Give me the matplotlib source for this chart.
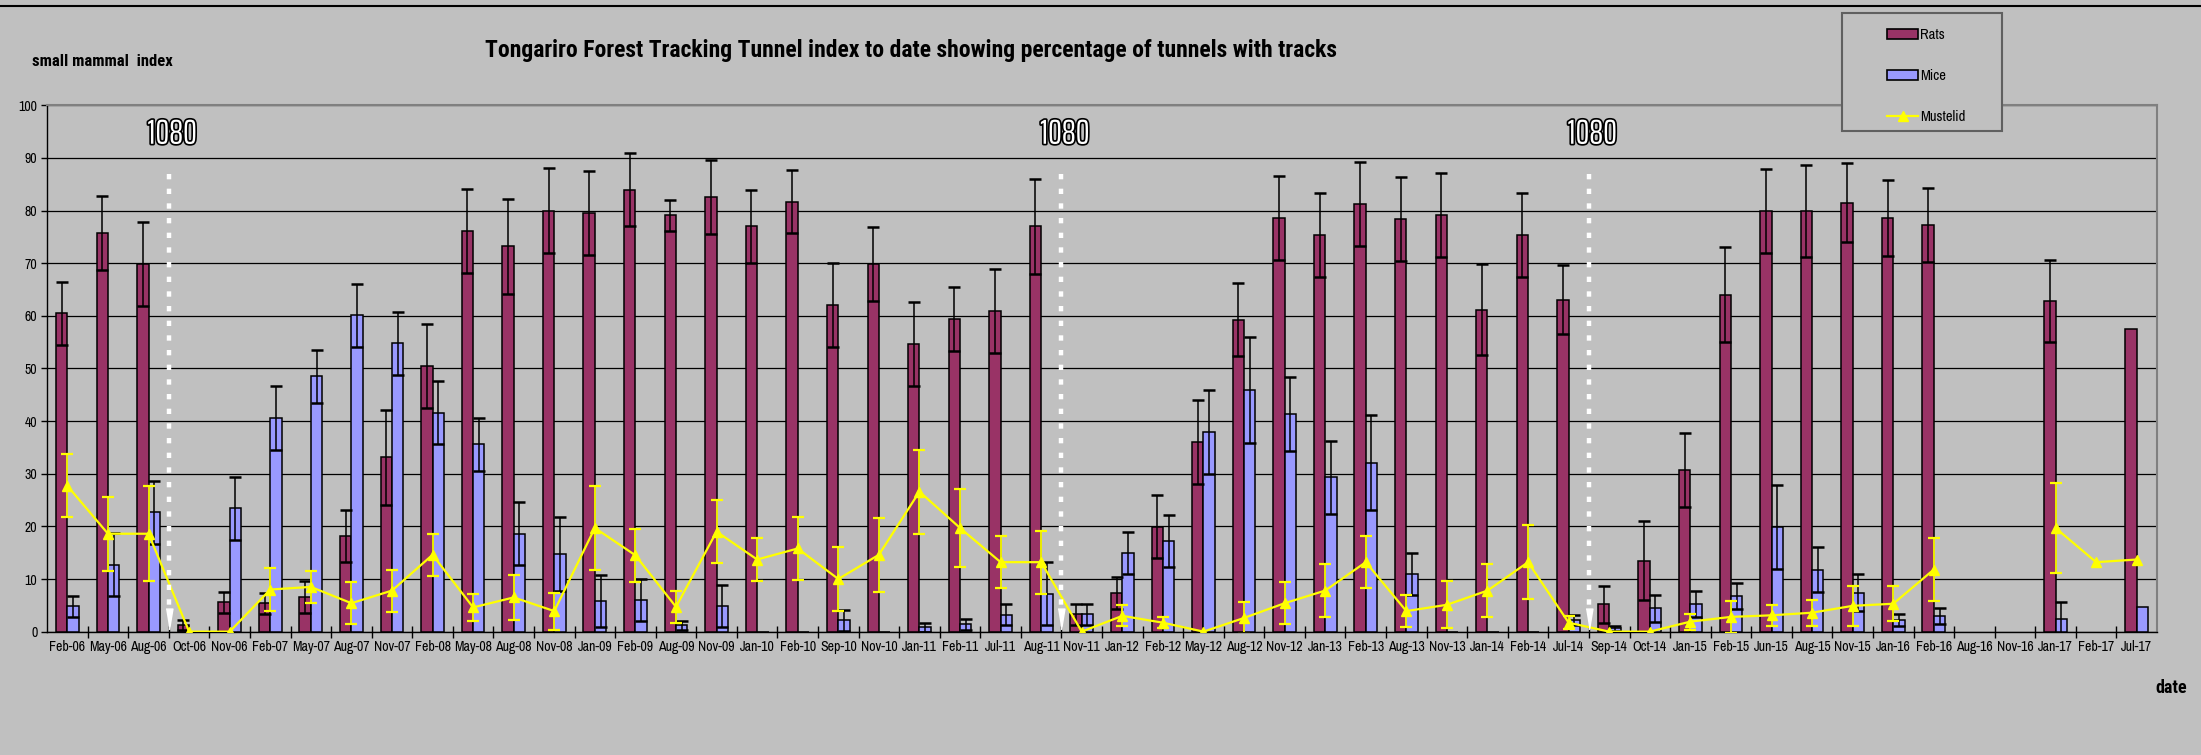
import numpy as np
import matplotlib.pyplot as plt
from matplotlib.patches import Rectangle, Patch
from matplotlib.lines import Line2D
import matplotlib.patheffects as pe

plt.rcParams['font.family'] = ['Archivo Narrow', 'Liberation Sans', 'DejaVu Sans']
bold_font = ['Roboto Condensed', 'Liberation Sans', 'DejaVu Sans']

nan = np.nan

dates = ['Feb-06', 'May-06', 'Aug-06', 'Oct-06', 'Nov-06', 'Feb-07', 'May-07', 'Aug-07', 'Nov-07',
         'Feb-08', 'May-08', 'Aug-08', 'Nov-08', 'Jan-09', 'Feb-09', 'Aug-09', 'Nov-09', 'Jan-10',
         'Feb-10', 'Sep-10', 'Nov-10', 'Jan-11', 'Feb-11', 'Jul-11', 'Aug-11', 'Nov-11', 'Jan-12',
         'Feb-12', 'May-12', 'Aug-12', 'Nov-12', 'Jan-13', 'Feb-13', 'Aug-13', 'Nov-13', 'Jan-14',
         'Feb-14', 'Jul-14', 'Sep-14', 'Oct-14', 'Jan-15', 'Feb-15', 'Jun-15', 'Aug-15', 'Nov-15',
         'Jan-16', 'Feb-16', 'Aug-16', 'Nov-16', 'Jan-17', 'Feb-17', 'Jul-17']

rats = [60.5, 75.8, 69.9, 1.3, 5.6, 5.4, 6.6, 18.2, 33.1, 50.4, 76.1, 73.2, 80.0, 79.6, 84.0, 79.1,
        82.6, 77.0, 81.7, 62.1, 69.9, 54.6, 59.4, 60.9, 77.0, 3.3, 7.3, 19.9, 36.0, 59.3, 78.6, 75.3,
        81.3, 78.4, 79.1, 61.2, 75.3, 63.1, 5.2, 13.5, 30.7, 64.0, 79.9, 79.9, 81.5, 78.6, 77.2,
        nan, nan, 62.8, nan, 57.5]
rats_err = [6, 7, 8, 1, 2, 2, 3, 5, 9, 8, 8, 9, 8, 8, 7, 3, 7, 7, 6, 8, 7, 8, 6, 8, 9, 2, 3, 6, 8, 7,
            8, 8, 8, 8, 8, 8.6, 8, 6.5, 3.5, 7.5, 7, 9, 8, 8.7, 7.5, 7.3, 7, nan, nan, 7.8, nan, nan]

mice = [4.8, 12.7, 22.7, 0, 23.4, 40.6, 48.5, 60.1, 54.8, 41.6, 35.6, 18.6, 14.8, 5.8, 6.0, 1.2,
        4.8, 0, 0, 2.2, 0, 0.8, 1.4, 3.2, 7.2, 3.3, 15.0, 17.2, 37.9, 45.9, 41.3, 29.3, 32.1, 10.9,
        0, 0, 0, 2.2, 0.6, 4.4, 5.2, 6.8, 19.9, 11.8, 7.4, 2.2, 3.0, nan, nan, 2.4, nan, 4.6]
mice_err = [2, 6, 6, nan, 6, 6, 5, 6, 6, 6, 5, 6, 7, 5, 4, 0.8, 4, nan, nan, 2, nan, 0.8, 1, 2, 6,
            2, 4, 5, 8, 10, 7, 7, 9, 4, nan, nan, nan, 1, 0.5, 2.5, 2.5, 2.5, 8, 4.3, 3.5, 1.2, 1.5,
            nan, nan, 3.3, nan, nan]

mustelid = [27.7, 18.6, 18.6, 0, 0, 8.0, 8.5, 5.4, 7.8, 14.6, 4.6, 6.5, 3.9, 19.7, 14.5, 4.7, 19.0,
            13.7, 15.8, 10.0, 14.6, 26.6, 19.7, 13.2, 13.2, 0, 3.0, 1.7, 0, 2.6, 5.4, 7.8, 13.2, 3.9,
            5.1, 7.8, 13.2, 1.7, 0, 0, 1.9, 2.8, 3.1, 3.6, 4.9, 5.3, 11.8, nan, nan, 19.7, 13.2, 13.7]
mustelid_err = [6, 7, 9, nan, nan, 4, 3, 4, 4, 4, 2.5, 4.3, 3.5, 8, 5, 3, 6, 4, 6, 6, 7, 8, 7.4, 5,
                6, nan, 2, 1, nan, 3, 4, 5, 5, 3, 4.5, 5, 7, 1.2, nan, nan, 1.5, 3, 2, 2.5, 3.8, 3.3,
                6, nan, nan, 8.6, nan, nan]

# 1080 drops came after these surveys
drops = ['Aug-06', 'Aug-11', 'Jul-14']

bg = '#C0C0C0'
fig = plt.figure(figsize=(22.01, 7.55), dpi=100, facecolor=bg)
ax = fig.add_axes([0.0214, 0.1634, 0.9586, 0.6971])
ax.set_facecolor(bg)

x = np.arange(len(dates))
w = 0.28
ax.bar(x - w / 2, rats, w, color='#993366', edgecolor='black', linewidth=1.1, zorder=3)
ax.bar(x + w / 2, mice, w, color='#9999FF', edgecolor='black', linewidth=1.1, zorder=3)
ax.errorbar(x - w / 2, rats, yerr=rats_err, fmt='none', ecolor='black', elinewidth=1.1,
            capsize=4.5, capthick=1.8, zorder=4)
ax.errorbar(x + w / 2, mice, yerr=mice_err, fmt='none', ecolor='black', elinewidth=1.1,
            capsize=4.5, capthick=1.8, zorder=4)
ax.errorbar(x, mustelid, yerr=mustelid_err, color='#FFFF00', marker='^', markersize=7,
            lw=1.6, elinewidth=1.3, capsize=4, capthick=1.6, zorder=5)

tri = [(-0.33, 1), (0.33, 1), (0, -1)]
for d in drops:
    xd = dates.index(d) + 0.5
    ax.plot([xd, xd], [87, 5], color='white', lw=3.2, ls=(0, (1.2, 2.1)),
            dash_capstyle='butt', zorder=6)
    ax.plot([xd], [2.4], marker=tri, ms=15, color='white', zorder=6)
    ax.text(xd + 0.08, 94.5, '1080', ha='center', va='center', fontsize=25, color='white',
            family=['Saira ExtraCondensed', 'Archivo Narrow'], zorder=6,
            path_effects=[pe.withStroke(linewidth=2.4, foreground='black')])

ax.set_xlim(-0.5, len(dates) - 0.5)
ax.set_ylim(0, 100)
ax.set_yticks(range(0, 101, 10))
ax.yaxis.grid(True, color='black', lw=0.9)
ax.set_axisbelow(True)
ax.set_xticks(np.arange(0.5, len(dates) - 1, 1))
ax.set_xticklabels([])
ax.set_xticks(x, minor=True)
ax.set_xticklabels(dates, minor=True)
ax.tick_params(axis='x', which='major', direction='inout', length=8, width=1)
ax.tick_params(axis='x', which='minor', length=0, pad=6, labelsize=10)
ax.tick_params(axis='y', direction='out', length=4, width=1, labelsize=10, pad=3)
for s in ['top', 'right']:
    ax.spines[s].set_color('#808080')
    ax.spines[s].set_linewidth(1.5)
for s in ['left', 'bottom']:
    ax.spines[s].set_color('black')
    ax.spines[s].set_linewidth(1.0)

fig.text(911 / 2201, 1 - 50 / 755, 'Tongariro Forest Tracking Tunnel index to date showing '
         'percentage of tunnels with tracks', ha='center', va='center', fontsize=17,
         fontweight='bold', family=bold_font)
fig.text(32 / 2201, 1 - 62 / 755, 'small mammal  index', ha='left', va='center', fontsize=12,
         fontweight='bold', family=bold_font)
fig.text(2155 / 2201, 1 - 688 / 755, 'date', ha='left', va='center', fontsize=13,
         fontweight='bold', family=bold_font)
fig.add_artist(Line2D([0, 1], [1 - 6 / 755] * 2, color='black', lw=1.5, transform=fig.transFigure))

# legend box
fig.add_artist(Rectangle((1842 / 2201, 1 - 131 / 755), 160 / 2201, 118 / 755,
                         transform=fig.transFigure, facecolor=bg, edgecolor='#606060',
                         lw=1.5, zorder=4))
handles = [Patch(facecolor='#993366', edgecolor='black', lw=1.2),
           Patch(facecolor='#9999FF', edgecolor='black', lw=1.2),
           Line2D([], [], color='#FFFF00', marker='^', lw=1.6, markersize=7)]
leg = fig.legend(handles, ['Rats', 'Mice', 'Mustelid'], loc='upper left',
                 bbox_to_anchor=(1880 / 2201, 1 - 21 / 755), frameon=False, fontsize=10.5,
                 labelspacing=1.85, handlelength=2.1, handletextpad=0.15, borderpad=0)
leg.set_zorder(5)

fig.savefig('out.png', dpi=100, facecolor=bg)
